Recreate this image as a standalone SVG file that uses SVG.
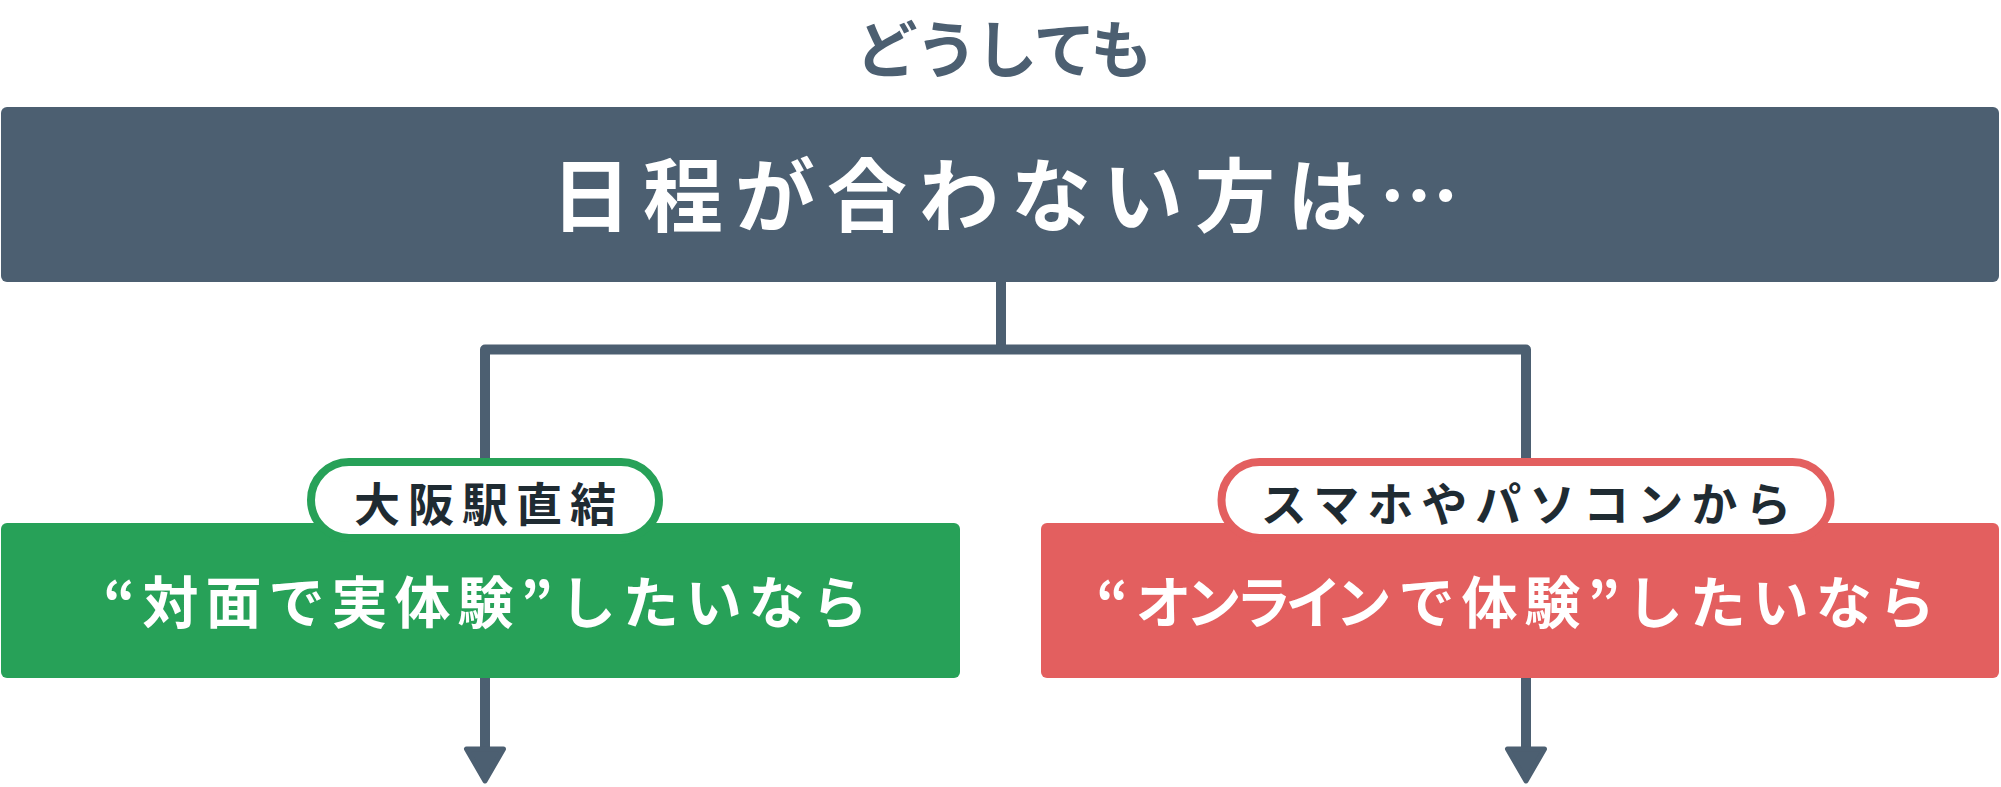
<svg xmlns="http://www.w3.org/2000/svg" width="2001" height="787" viewBox="0 0 2001 787">
  <style>
    .jp { font-family: "Noto Sans CJK JP", "Noto Sans", sans-serif; }
    .title { font-size: 80px; font-weight: 700; fill: #ffffff; letter-spacing: 12px; }
    .pre { font-size: 62px; font-weight: 700; fill: #4c5f71; letter-spacing: -2px; }
    .pilltext { font-size: 46px; font-weight: 700; fill: #1f2b32; letter-spacing: 8px; }
    .boxtext { font-size: 56px; font-weight: 700; fill: #ffffff; letter-spacing: 7px; }
    .kana { letter-spacing: -6px; }
    .conn { fill: none; stroke: #4c5f71; stroke-width: 10; stroke-linejoin: round; }
    .head { fill: #4c5f71; stroke: #4c5f71; stroke-width: 5; stroke-linejoin: round; }
  </style>

  <g id="connectors">
    <path class="conn" d="M1001,280 V349.5"/>
    <path class="conn" d="M485,530 V349.5 H1526 V530"/>
    <path class="conn" d="M485,670 V752"/>
    <path class="conn" d="M1526,670 V752"/>
    <polygon class="head" points="466.5,749 503.5,749 485,781"/>
    <polygon class="head" points="1507.5,749 1544.5,749 1526,781"/>
  </g>

  <g id="pretitle">
    <text class="jp pre" x="1003" y="73" text-anchor="middle">どうしても</text>
  </g>

  <g id="top-node">
    <rect x="1" y="107" width="1998" height="175" rx="6" fill="#4c5f71"/>
    <text class="jp title" x="1011" y="225" text-anchor="middle">日程が合わない方は…</text>
  </g>

  <g id="left-node">
    <rect x="1" y="523" width="959" height="155" rx="6" fill="#27a158"/>
    <text class="jp boxtext" x="489" y="623" text-anchor="middle">“対面で実体験”したいなら</text>
  </g>
  <g id="left-label">
    <rect x="311" y="462" width="348" height="76" rx="38" fill="#ffffff" stroke="#27a158" stroke-width="8"/>
    <text class="jp pilltext" x="489" y="521" text-anchor="middle">大阪駅直結</text>
  </g>

  <g id="right-node">
    <rect x="1041" y="523" width="958" height="155" rx="6" fill="#e35f5f"/>
    <text class="jp boxtext" x="1519" y="623" text-anchor="middle">“<tspan class="kana">オンライ</tspan>ンで体験”したいなら</text>
  </g>
  <g id="right-label">
    <rect x="1221.5" y="462" width="609" height="76" rx="38" fill="#ffffff" stroke="#e35f5f" stroke-width="8"/>
    <text class="jp pilltext" x="1530" y="521" text-anchor="middle">スマホやパソコンから</text>
  </g>
</svg>
